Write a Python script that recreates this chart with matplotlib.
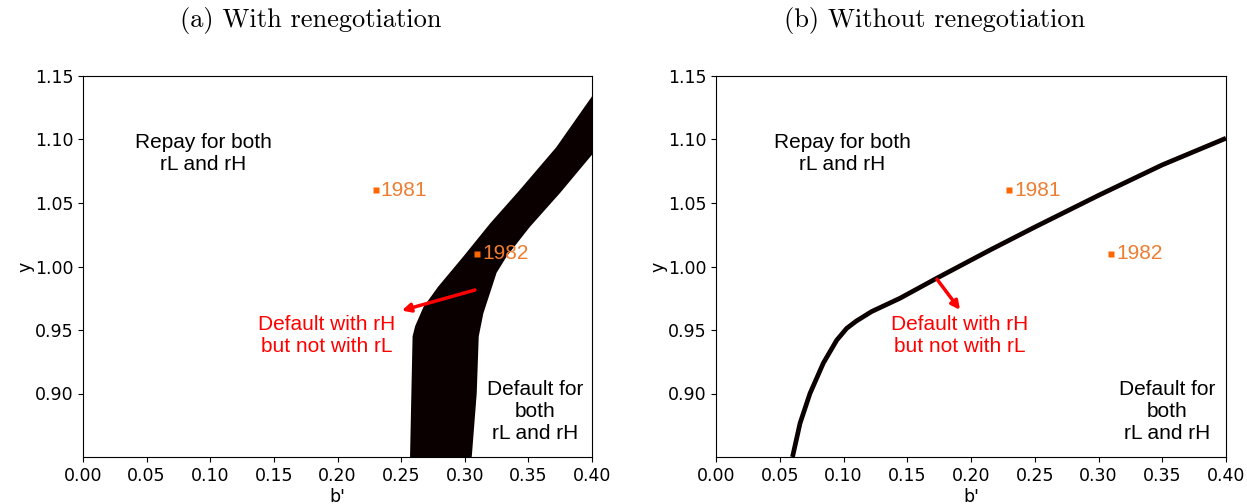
import numpy as np
import matplotlib
matplotlib.use("Agg")
import matplotlib.pyplot as plt

# band (with renegotiation): left and right edges
band_left_x = [0.257, 0.259, 0.261, 0.2675, 0.279, 0.299, 0.320, 0.343, 0.372, 0.400]
band_left_y = [0.850, 0.945, 0.953, 0.968, 0.984, 1.008, 1.034, 1.060, 1.094, 1.134]
band_right_x = [0.3055, 0.3094, 0.311, 0.3146, 0.325, 0.333, 0.351, 0.375, 0.400]
band_right_y = [0.850, 0.900, 0.945, 0.963, 0.995, 1.008, 1.031, 1.058, 1.088]

# threshold curve (without renegotiation)
curve_x = [0.060, 0.0659, 0.0737, 0.0842, 0.0947, 0.1025, 0.110, 0.122, 0.1443, 0.173, 0.215, 0.25, 0.30, 0.35, 0.40]
curve_y = [0.850, 0.8765, 0.900, 0.924, 0.942, 0.9513, 0.957, 0.9645, 0.975, 0.9907, 1.013, 1.031, 1.056, 1.080, 1.101]

years = ["1981", "1982"]
year_b = [0.23, 0.31]
year_y = [1.06, 1.01]

titles = ["(a) With renegotiation", "(b) Without renegotiation"]
xticks = [0.00, 0.05, 0.10, 0.15, 0.20, 0.25, 0.30, 0.35, 0.40]
yticks = [0.90, 0.95, 1.00, 1.05, 1.10, 1.15]

fig = plt.figure(figsize=(12.47, 5.04), dpi=100)
ax1 = fig.add_axes([83 / 1247, 1 - 457 / 504, 509 / 1247, 381 / 504])
ax2 = fig.add_axes([716 / 1247, 1 - 457 / 504, 510 / 1247, 381 / 504])

dark = "#0a0000"
ax1.fill(np.concatenate([band_left_x, band_right_x[::-1]]),
         np.concatenate([band_left_y, band_right_y[::-1]]),
         color=dark, lw=0)
ax2.plot(curve_x, curve_y, color=dark, lw=3.4, solid_capstyle="butt",
         solid_joinstyle="round")

txt_font = "Liberation Sans"
fs = 15
orange_mark = "#ff6600"
orange_txt = "#ed7d31"

for ax in (ax1, ax2):
    ax.set_xlim(0, 0.4)
    ax.set_ylim(0.85, 1.15)
    ax.set_xticks(xticks)
    ax.set_yticks(yticks)
    ax.set_xticklabels([f"{t:.2f}" for t in xticks])
    ax.set_yticklabels([f"{t:.2f}" for t in yticks])
    ax.tick_params(labelsize=12.5)
    ax.set_xlabel("b'", fontsize=12.5, labelpad=2)
    ax.set_ylabel("y", fontsize=12.5, labelpad=0)
    for name, b, y in zip(years, year_b, year_y):
        ax.plot([b], [y], "s", color=orange_mark, ms=4.5, mec="none")
        ax.text(b + 0.004, y, name, color=orange_txt, fontsize=fs,
                family=txt_font, va="center", ha="left")

# region labels
ax1.text(0.0943, 1.089, "Repay for both\nrL and rH", ha="center", va="center",
         fontsize=fs, family=txt_font)
ax2.text(0.0988, 1.089, "Repay for both\nrL and rH", ha="center", va="center",
         fontsize=fs, family=txt_font)
ax1.text(0.355, 0.886, "Default for\nboth\nrL and rH", ha="center", va="center",
         fontsize=fs, family=txt_font)
ax2.text(0.3537, 0.886, "Default for\nboth\nrL and rH", ha="center", va="center",
         fontsize=fs, family=txt_font)
ax1.text(0.1914, 0.9453, "Default with rH\nbut not with rL", ha="center", va="center",
         fontsize=fs, family=txt_font, color="red")
ax2.text(0.1914, 0.9453, "Default with rH\nbut not with rL", ha="center", va="center",
         fontsize=fs, family=txt_font, color="red")

arrow = dict(arrowstyle="-|>,head_length=0.5,head_width=0.25", color="red", lw=2.5,
             shrinkA=0, shrinkB=0)
ax1.annotate("", xy=(0.2505, 0.9653), xytext=(0.308, 0.9815), arrowprops=arrow)
ax2.annotate("", xy=(0.1914, 0.9658), xytext=(0.1733, 0.990), arrowprops=arrow)

fig.text(311 / 1247, 1 - 20 / 504, titles[0], family="cmr10", fontsize=19,
         ha="center", va="center")
fig.text(935 / 1247, 1 - 20 / 504, titles[1], family="cmr10", fontsize=19,
         ha="center", va="center")

fig.savefig("out.png", dpi=100)
